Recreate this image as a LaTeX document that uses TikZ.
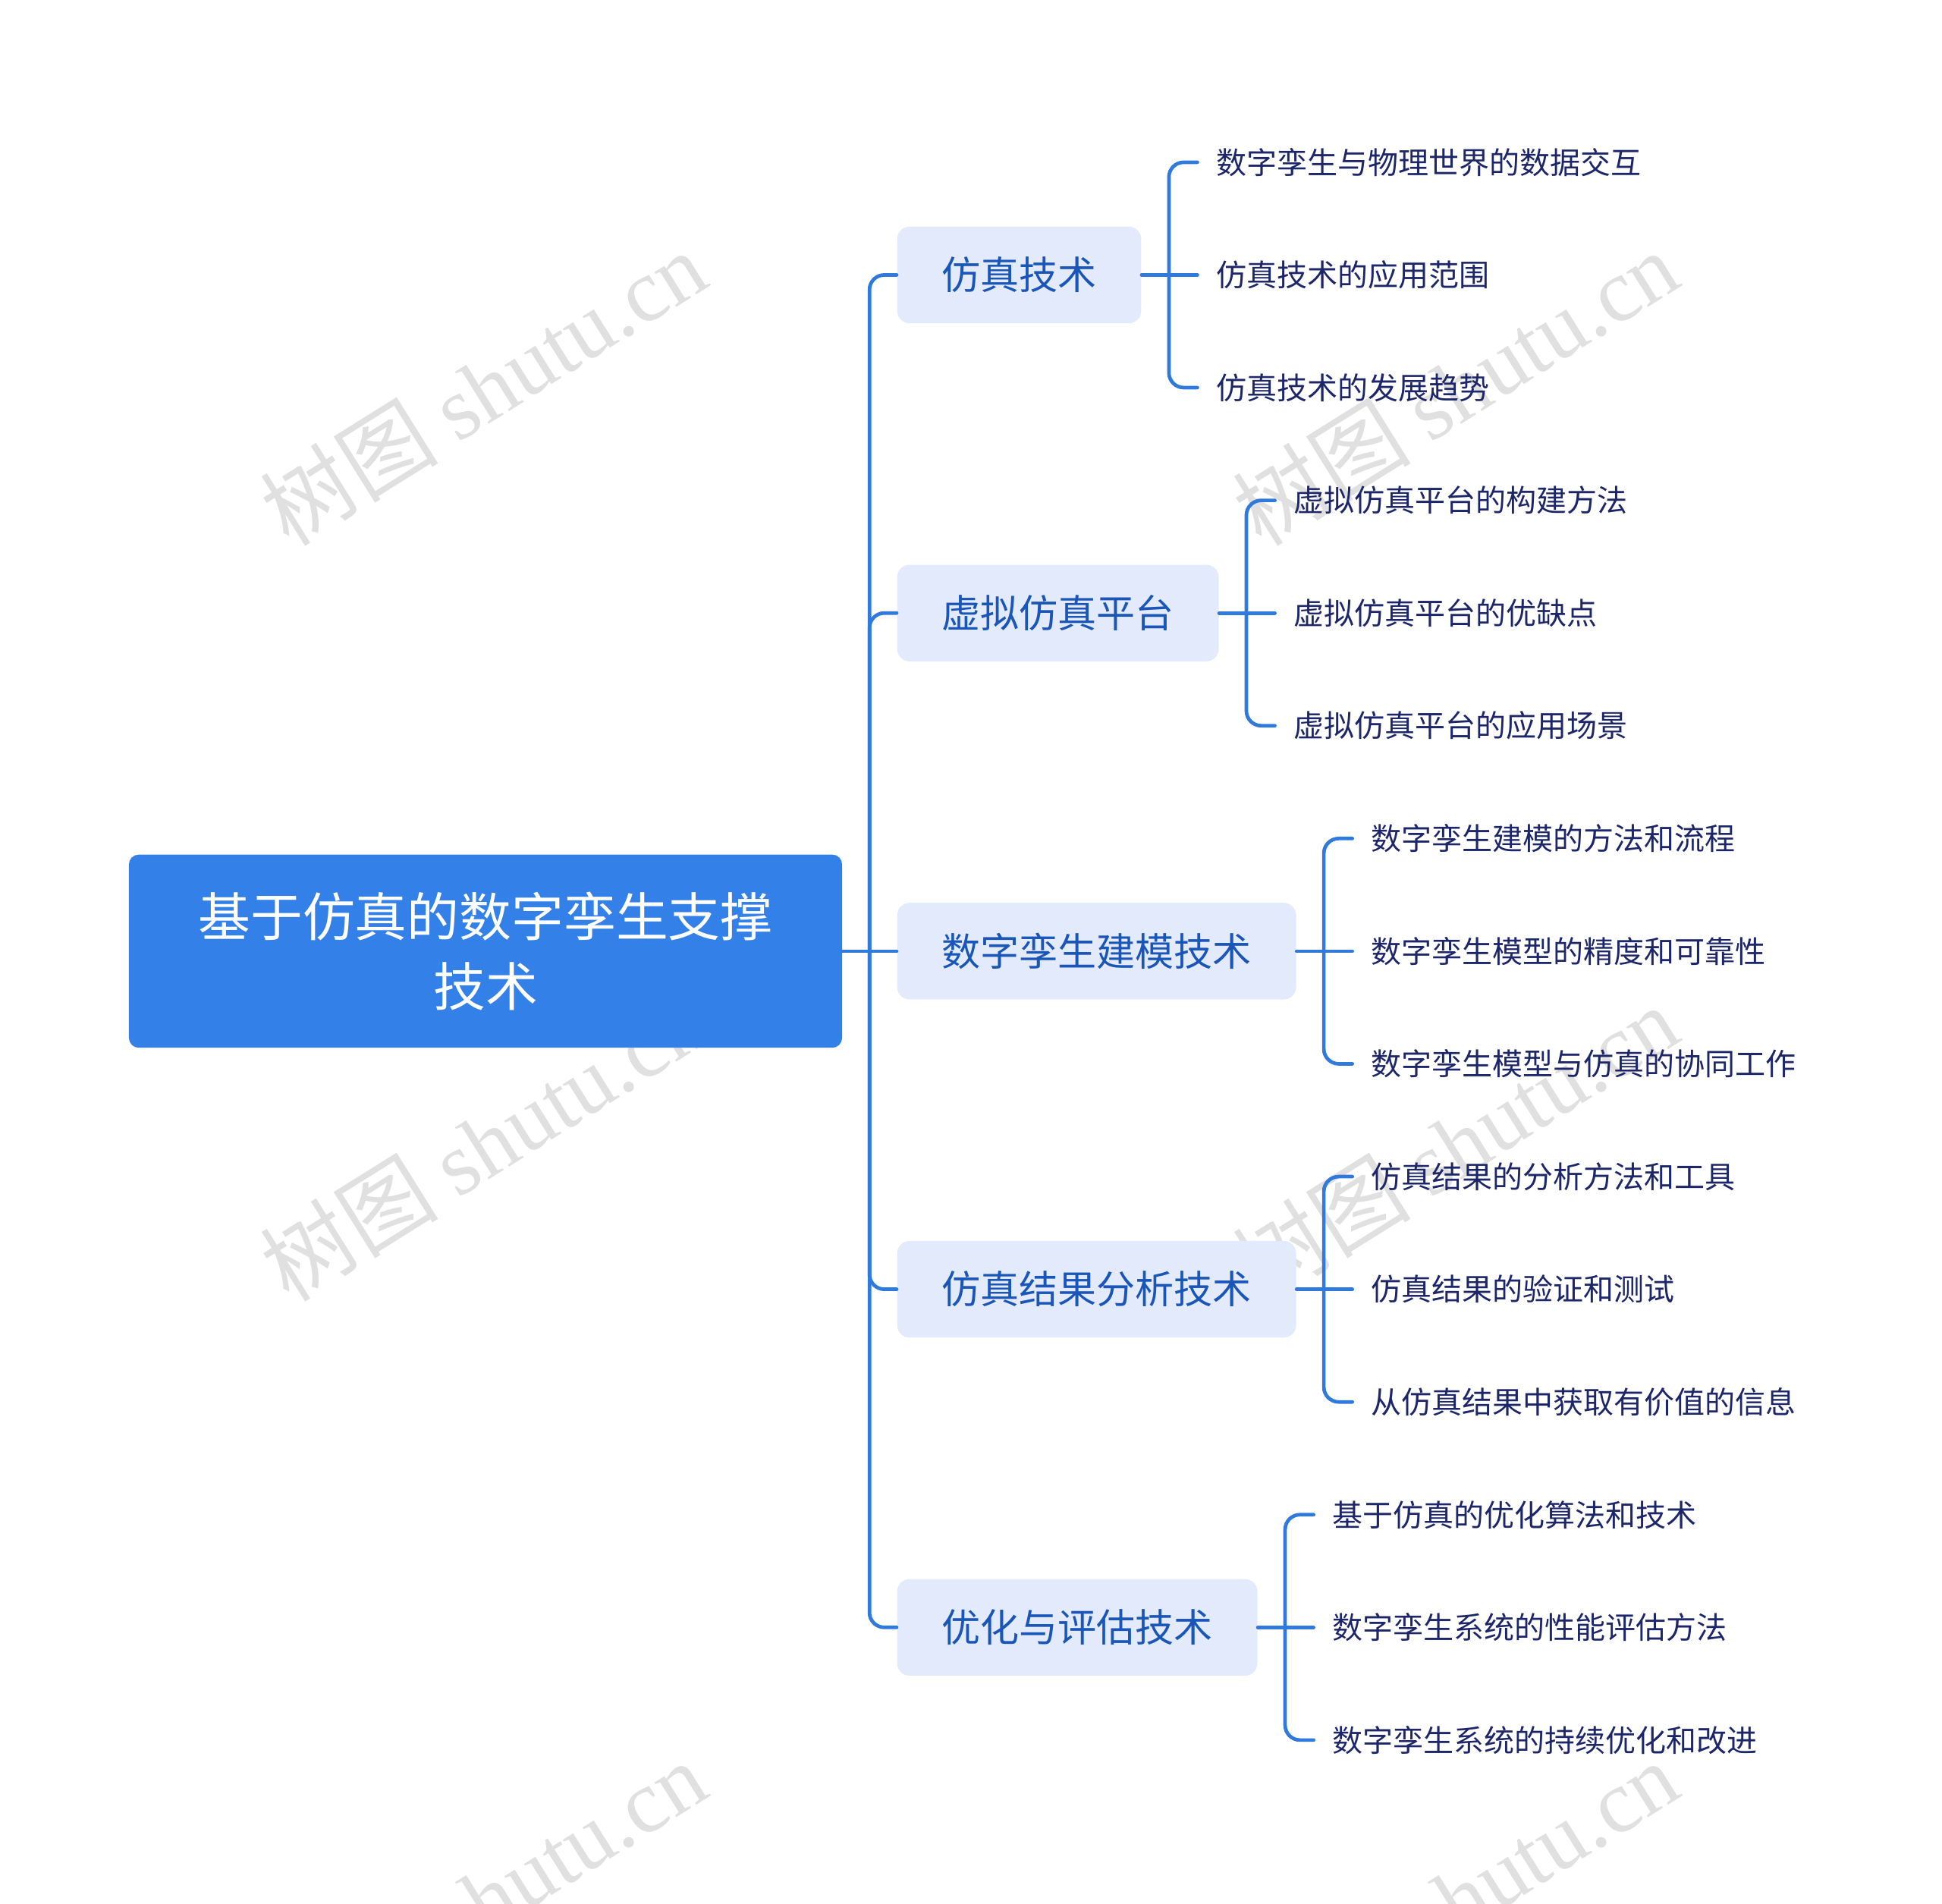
\documentclass[tikz,border=0pt]{standalone}
\usepackage{fontspec}
\setmainfont{Noto Sans CJK SC}
\newfontfamily\wmfont{Liberation Serif}
\usetikzlibrary{positioning}
\definecolor{rootfill}{HTML}{3380E8}
\definecolor{branchfill}{HTML}{E2EAFB}
\definecolor{branchtext}{HTML}{1A56B8}
\definecolor{leaftext}{HTML}{1C2668}
\definecolor{linkblue}{HTML}{3079DD}
\definecolor{wmgray}{HTML}{E0E0E0}
\begin{document}
\begin{tikzpicture}[x=0.02cm,y=-0.02cm,line join=round,line cap=round,
  rootbox/.style={fill=rootfill,rounded corners=0.16cm,text=white,align=center,
    minimum width=11.52cm,minimum height=3.12cm,font=\fontsize{24}{32}\selectfont},
  branchbox/.style={fill=branchfill,rounded corners=0.2cm,text=branchtext,anchor=west,
    inner xsep=0.72cm,minimum height=1.56cm,font=\fontsize{17.8}{21}\selectfont},
  leaf/.style={text=leaftext,anchor=west,inner xsep=0.3cm,font=\fontsize{13.95}{17}\selectfont},
  link/.style={draw=linkblue,line width=1.65pt,rounded corners=0.24cm},
  wmark/.style={text=wmgray,rotate=32,font=\fontsize{41}{41}\selectfont}]
\useasboundingbox (0,0) rectangle (1568,1537);
\begin{scope}
\clip (0,0) rectangle (1568,1537);
\foreach \wx in {390,1175}
  \foreach \wy/\wn in {313/a,923/b,1533/c}
    \node[wmark] (wm\wn\wx) at (\wx,\wy) {树图 {\wmfont shutu.cn}};
\end{scope}
\node[rootbox] (root) at (392,768) {基于仿真的数字孪生支撑\\技术};
\node[branchbox] (b1) at (724,222) {仿真技术};
\node[branchbox] (b2) at (724,495) {虚拟仿真平台};
\node[branchbox] (b3) at (724,768) {数字孪生建模技术};
\node[branchbox] (b4) at (724,1041) {仿真结果分析技术};
\node[branchbox] (b5) at (724,1314) {优化与评估技术};
% leaves
\node[leaf,right=0.9cm of b1] (l12) {仿真技术的应用范围};
\node[leaf] (l11) at ([yshift=1.82cm]l12.west) {数字孪生与物理世界的数据交互};
\node[leaf] (l13) at ([yshift=-1.82cm]l12.west) {仿真技术的发展趋势};
\node[leaf,right=0.9cm of b2] (l22) {虚拟仿真平台的优缺点};
\node[leaf] (l21) at ([yshift=1.82cm]l22.west) {虚拟仿真平台的构建方法};
\node[leaf] (l23) at ([yshift=-1.82cm]l22.west) {虚拟仿真平台的应用场景};
\node[leaf,right=0.9cm of b3] (l32) {数字孪生模型的精度和可靠性};
\node[leaf] (l31) at ([yshift=1.82cm]l32.west) {数字孪生建模的方法和流程};
\node[leaf] (l33) at ([yshift=-1.82cm]l32.west) {数字孪生模型与仿真的协同工作};
\node[leaf,right=0.9cm of b4] (l42) {仿真结果的验证和测试};
\node[leaf] (l41) at ([yshift=1.82cm]l42.west) {仿真结果的分析方法和工具};
\node[leaf] (l43) at ([yshift=-1.82cm]l42.west) {从仿真结果中获取有价值的信息};
\node[leaf,right=0.9cm of b5] (l52) {数字孪生系统的性能评估方法};
\node[leaf] (l51) at ([yshift=1.82cm]l52.west) {基于仿真的优化算法和技术};
\node[leaf] (l53) at ([yshift=-1.82cm]l52.west) {数字孪生系统的持续优化和改进};
% connectors
\coordinate (trunk) at (702,768);
\draw[link] (root.east) -- (b3.west);
\foreach \b in {b1,b2,b4,b5}
  \draw[link] (trunk) |- (\b.west);
\foreach \b in {1,...,5}{
  \draw[link] (b\b.east) -- (l\b2.west);
  \draw[link] ([xshift=0.44cm]b\b.east) |- (l\b1.west);
  \draw[link] ([xshift=0.44cm]b\b.east) |- (l\b3.west);
}
\end{tikzpicture}
\end{document}
